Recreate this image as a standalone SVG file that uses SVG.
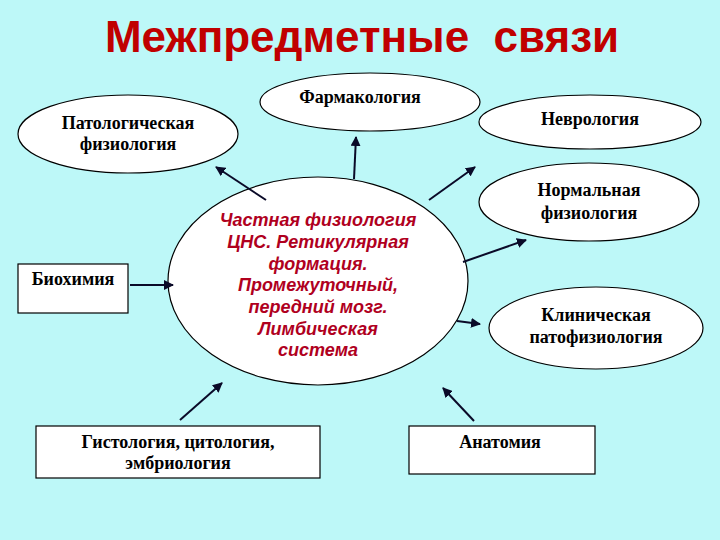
<svg xmlns="http://www.w3.org/2000/svg" width="720" height="540" viewBox="0 0 720 540">
<defs>
<marker id="ah" viewBox="0 0 10 10" refX="9" refY="5" markerWidth="5" markerHeight="5" orient="auto" markerUnits="strokeWidth">
<path d="M0,0 L10,5 L0,10 z" fill="#0a0a28"/>
</marker>
<style>
.node{fill:#ffffff;stroke:#000000;stroke-width:1.2}
.lbl{font-family:"Liberation Serif","Times New Roman",serif;font-weight:bold;font-size:18px;fill:#000000;text-anchor:middle}
.ctr{font-family:"Liberation Sans",Arial,sans-serif;font-weight:bold;font-style:italic;font-size:18px;fill:#b0001e;text-anchor:middle}
.title{font-family:"Liberation Sans",Arial,sans-serif;font-weight:bold;font-size:44px;fill:#c00000;text-anchor:middle}
.conn line{stroke:#0a0a28;stroke-width:2;marker-end:url(#ah)}
</style>
</defs>
<rect x="0" y="0" width="720" height="540" fill="#bdf8f8"/>
<text class="title" x="362" y="52" xml:space="preserve">Межпредметные  связи</text>

<g id="center">
<ellipse class="node" cx="318" cy="281" rx="150" ry="104"/>
<text class="ctr" x="318" y="226">Частная физиология</text>
<text class="ctr" x="318" y="248">ЦНС. Ретикулярная</text>
<text class="ctr" x="318" y="270">формация.</text>
<text class="ctr" x="318" y="291">Промежуточный,</text>
<text class="ctr" x="318" y="313">передний мозг.</text>
<text class="ctr" x="318" y="335">Лимбическая</text>
<text class="ctr" x="318" y="356">система</text>
</g>
<g id="pharm">
<ellipse class="node" cx="370" cy="102" rx="110" ry="29"/>
<text class="lbl" x="360" y="103">Фармакология</text>
</g>
<g id="patphys">
<ellipse class="node" cx="128" cy="134" rx="110" ry="39"/>
<text class="lbl" x="128" y="129">Патологическая</text>
<text class="lbl" x="128" y="150">физиология</text>
</g>
<g id="neuro">
<ellipse class="node" cx="590" cy="122" rx="111" ry="27"/>
<text class="lbl" x="590" y="125">Неврология</text>
</g>
<g id="normphys">
<ellipse class="node" cx="589" cy="202" rx="110" ry="39"/>
<text class="lbl" x="589" y="196">Нормальная</text>
<text class="lbl" x="589" y="219">физиология</text>
</g>
<g id="clin">
<ellipse class="node" cx="596" cy="328" rx="107" ry="41"/>
<text class="lbl" x="596" y="321">Клиническая</text>
<text class="lbl" x="596" y="343">патофизиология</text>
</g>
<g id="biochem">
<rect class="node" x="18" y="264" width="110" height="49"/>
<text class="lbl" x="73" y="285">Биохимия</text>
</g>
<g id="histo">
<rect class="node" x="36" y="426" width="284" height="52"/>
<text class="lbl" x="178" y="448">Гистология, цитология,</text>
<text class="lbl" x="178" y="469">эмбриология</text>
</g>
<g id="anat">
<rect class="node" x="409" y="426" width="186" height="48"/>
<text class="lbl" x="500" y="448">Анатомия</text>
</g>

<g class="conn">
<line x1="266" y1="200" x2="216" y2="167"/>
<line x1="354" y1="179" x2="356" y2="137"/>
<line x1="429" y1="200" x2="475" y2="167"/>
<line x1="463" y1="262" x2="526" y2="240"/>
<line x1="457" y1="321" x2="480" y2="324"/>
<line x1="130" y1="285" x2="173" y2="285"/>
<line x1="180" y1="420" x2="222" y2="383"/>
<line x1="474" y1="421" x2="443" y2="388"/>
</g>
</svg>
